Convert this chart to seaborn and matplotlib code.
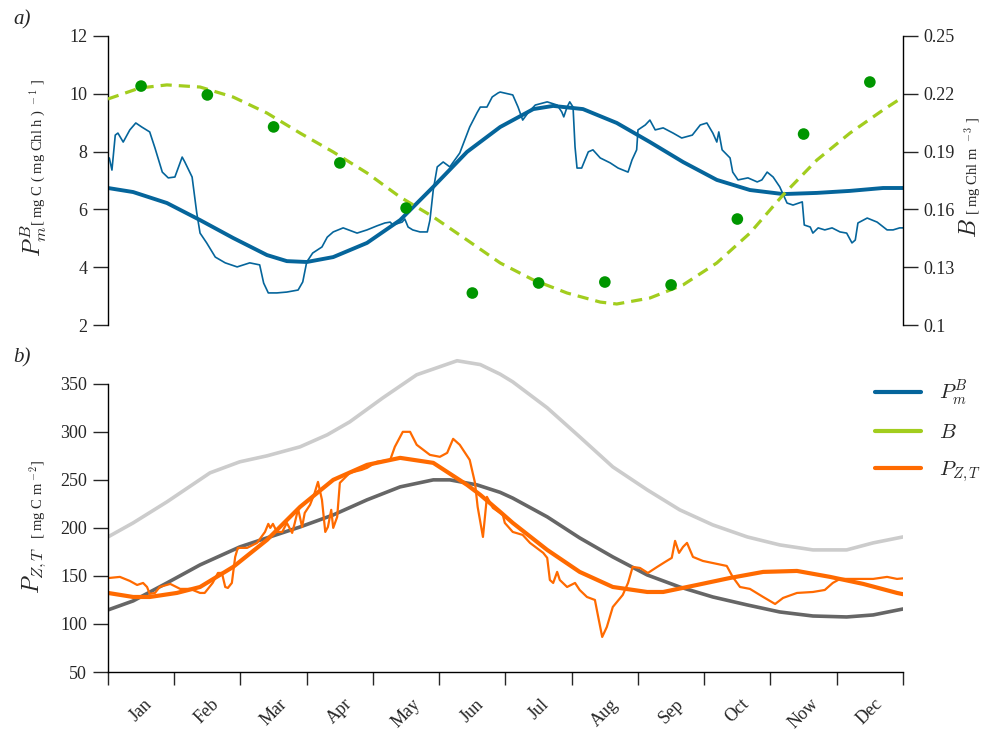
import pandas as pd
import seaborn as sns
import matplotlib.pyplot as plt
from matplotlib.lines import Line2D

# month labels (x axis in months, 0..12)
months = ['Jan', 'Feb', 'Mar', 'Apr', 'May', 'Jun', 'Jul', 'Aug', 'Sep', 'Oct', 'Now', 'Dec']

# ---- panel a ----
# smoothed P_m^B  [mg C (mg Chl h)^-1]
pmb_fit_t = [0, 0.38, 0.89, 1.39, 1.89, 2.40, 2.70, 3.00, 3.40, 3.91, 4.41, 4.91, 5.42, 5.92,
             6.42, 6.72, 7.17, 7.68, 8.18, 8.68, 9.19, 9.69, 10.19, 10.70, 11.20, 11.70, 12.0]
pmb_fit = [6.74, 6.60, 6.22, 5.63, 5.01, 4.42, 4.21, 4.18, 4.35, 4.84, 5.63, 6.78, 7.99, 8.85,
           9.47, 9.58, 9.47, 8.99, 8.33, 7.64, 7.02, 6.67, 6.53, 6.57, 6.64, 6.74, 6.74]

# daily P_m^B
pmb_t = [0.02, 0.06, 0.11, 0.15, 0.23, 0.33, 0.42, 0.51, 0.63, 0.71, 0.82, 0.91, 1.01, 1.12, 1.16,
         1.27, 1.34, 1.39, 1.49, 1.62, 1.77, 1.95, 2.14, 2.29, 2.35, 2.42, 2.55, 2.70, 2.87, 2.94,
         3.00, 3.09, 3.23, 3.31, 3.40, 3.55, 3.76, 3.91, 4.06, 4.18, 4.26, 4.30, 4.44, 4.48, 4.53,
         4.60, 4.71, 4.82, 4.86, 4.91, 4.97, 5.06, 5.16, 5.31, 5.46, 5.57, 5.62, 5.72, 5.80, 5.89,
         5.92, 6.11, 6.19, 6.26, 6.34, 6.45, 6.63, 6.78, 6.85, 6.88, 6.93, 6.97, 7.02, 7.05, 7.08,
         7.15, 7.25, 7.32, 7.43, 7.58, 7.70, 7.85, 7.91, 7.98, 8.00, 8.11, 8.18, 8.26, 8.38, 8.53,
         8.66, 8.82, 8.94, 9.04, 9.13, 9.19, 9.22, 9.27, 9.39, 9.43, 9.51, 9.66, 9.80, 9.87, 9.95,
         10.04, 10.14, 10.25, 10.34, 10.48, 10.51, 10.60, 10.64, 10.72, 10.82, 10.93, 11.05, 11.15,
         11.23, 11.28, 11.32, 11.46, 11.61, 11.76, 11.85, 11.95, 12.0]
pmb = [7.78, 7.36, 8.57, 8.64, 8.33, 8.75, 8.99, 8.85, 8.68, 8.12, 7.29, 7.09, 7.12, 7.81, 7.64,
       7.12, 5.88, 5.18, 4.84, 4.35, 4.15, 4.01, 4.15, 4.08, 3.45, 3.11, 3.11, 3.14, 3.21, 3.49,
       4.18, 4.49, 4.70, 5.04, 5.22, 5.36, 5.18, 5.29, 5.43, 5.53, 5.56, 5.46, 5.56, 5.67, 5.39,
       5.29, 5.22, 5.22, 5.63, 6.67, 7.47, 7.64, 7.47, 7.95, 8.85, 9.34, 9.54, 9.54, 9.89, 10.03,
       10.06, 9.96, 9.54, 9.09, 9.34, 9.61, 9.72, 9.61, 9.37, 9.20, 9.54, 9.72, 9.54, 8.16, 7.43,
       7.43, 7.99, 8.06, 7.78, 7.61, 7.43, 7.29, 7.71, 8.06, 8.75, 8.92, 9.09, 8.75, 8.82, 8.64,
       8.47, 8.57, 8.92, 8.99, 8.64, 8.33, 8.68, 8.06, 7.78, 7.29, 7.02, 7.09, 6.95, 7.02, 7.29,
       7.12, 6.78, 6.22, 6.15, 6.26, 5.46, 5.39, 5.18, 5.36, 5.29, 5.36, 5.22, 5.18,
       4.84, 4.94, 5.53, 5.70, 5.56, 5.29, 5.29, 5.36, 5.36]

# fitted B  [mg Chl m^-3]
b_fit_t = [0, 0.48, 0.89, 1.39, 1.89, 2.40, 2.90, 3.40, 3.91, 4.41, 4.91, 5.42, 5.92, 6.42,
           6.93, 7.43, 7.68, 8.18, 8.68, 9.19, 9.69, 10.19, 10.70, 11.20, 11.70, 12.0]
b_fit = [0.2173, 0.2230, 0.2246, 0.2235, 0.2183, 0.2100, 0.1996, 0.1898, 0.1789, 0.1664,
         0.1561, 0.1441, 0.1322, 0.1234, 0.1166, 0.1119, 0.1109, 0.1140, 0.1208, 0.1322,
         0.1477, 0.1675, 0.1856, 0.1996, 0.2116, 0.2183]

# monthly B observations
b_obs_t = [0.5, 1.5, 2.5, 3.5, 4.5, 5.5, 6.5, 7.5, 8.5, 9.5, 10.5, 11.5]
b_obs = [0.2240, 0.2194, 0.2028, 0.1841, 0.1607, 0.1166, 0.1218, 0.1223, 0.1208, 0.1550,
         0.1991, 0.2261]

# ---- panel b ----  P_ZT [mg C m^-2]
upper_t = [0, 0.38, 0.89, 1.54, 1.99, 2.40, 2.90, 3.31, 3.65, 4.15, 4.66, 5.27, 5.62, 5.92,
           6.11, 6.63, 7.12, 7.62, 8.14, 8.63, 9.13, 9.65, 10.14, 10.64, 11.15, 11.55, 12.0]
upper = [190.6, 205.2, 227.1, 257.3, 268.8, 275.0, 284.4, 296.9, 310.4, 335.4, 359.4, 374.0,
         370.0, 360.0, 352.0, 325.0, 294.8, 263.5, 239.6, 218.8, 203.1, 190.6, 182.3, 177.1,
         177.1, 184.4, 190.6]

lower_t = [0, 0.38, 0.89, 1.39, 1.99, 2.40, 2.90, 3.40, 3.91, 4.41, 4.91, 5.16, 5.57, 5.92,
           6.11, 6.63, 7.12, 7.62, 8.14, 8.63, 9.13, 9.65, 10.14, 10.64, 11.15, 11.55, 12.0]
lower = [114.6, 124.0, 142.7, 161.5, 180.2, 189.6, 201.0, 213.5, 229.2, 242.7, 250.0, 250.0,
         244.8, 237.0, 231.0, 211.5, 189.6, 169.8, 151.0, 138.5, 128.1, 119.8, 112.5, 108.3,
         107.3, 109.4, 115.6]

pzt_fit_t = [0, 0.38, 0.63, 1.04, 1.39, 1.89, 2.40, 2.90, 3.40, 3.91, 4.41, 4.91, 5.42, 5.62,
             5.92, 6.11, 6.63, 7.12, 7.62, 8.14, 8.38, 8.89, 9.39, 9.89, 10.40, 10.90, 11.40,
             11.91, 12.0]
pzt_fit = [132.3, 128.1, 128.1, 132.3, 138.5, 159.4, 187.5, 221.9, 250.0, 265.6, 272.9, 267.7,
           244.8, 234.4, 216.7, 205.2, 177.1, 154.2, 138.5, 133.3, 133.3, 140.6, 147.9, 154.2,
           155.2, 149.0, 141.7, 132.3, 131.0]

pzt_t = [0.02, 0.18, 0.33, 0.44, 0.53, 0.59, 0.63, 0.71, 0.78, 0.94, 1.09, 1.24, 1.39, 1.46,
         1.58, 1.66, 1.72, 1.77, 1.81, 1.87, 1.92, 1.96, 2.10, 2.25, 2.37, 2.42, 2.45, 2.49, 2.55,
         2.63, 2.70, 2.78, 2.82, 2.87, 2.93, 2.97, 3.05, 3.12, 3.17, 3.23, 3.28, 3.32, 3.37, 3.40,
         3.46, 3.50, 3.65, 3.83, 3.91, 4.06, 4.26, 4.33, 4.45, 4.56, 4.66, 4.86, 5.01, 5.12, 5.21,
         5.31, 5.46, 5.54, 5.58, 5.66, 5.72, 5.81, 5.96, 5.99, 6.11, 6.26, 6.37, 6.57, 6.63, 6.67,
         6.72, 6.78, 6.82, 6.93, 7.05, 7.12, 7.23, 7.35, 7.40, 7.46, 7.53, 7.62, 7.77, 7.85, 7.92,
         8.03, 8.15, 8.29, 8.41, 8.51, 8.56, 8.62, 8.68, 8.74, 8.83, 8.98, 9.34, 9.43, 9.54, 9.69,
         9.89, 10.07, 10.19, 10.40, 10.64, 10.82, 10.94, 11.05, 11.40, 11.55, 11.76, 11.91, 12.0]
pzt = [147.9, 149.0, 144.8, 140.6, 142.7, 138.5, 131.3, 132.3, 138.5, 141.7, 136.5, 136.5, 132.3,
       132.3, 142.7, 153.1, 153.1, 138.5, 137.5, 142.7, 169.8, 179.2, 179.2, 184.4, 195.8, 204.2,
       200.0, 204.2, 195.8, 195.8, 205.2, 194.8, 205.2, 219.8, 201.0, 215.6, 224.0, 236.5, 247.9,
       229.2, 195.8, 201.0, 218.8, 200.0, 211.5, 246.9, 257.3, 260.4, 262.5, 268.8, 270.8, 284.4,
       300.0, 300.0, 286.5, 276.0, 274.0, 278.1, 292.7, 286.5, 270.8, 246.9, 221.9, 190.6, 232.3,
       220.8, 213.5, 205.2, 195.8, 192.7, 184.4, 174.0, 168.8, 145.8, 142.7, 154.2, 145.8, 138.5,
       142.7, 135.4, 128.1, 125.0, 107.3, 86.5, 96.9, 117.7, 130.2, 142.7, 159.4, 158.3, 153.1,
       159.4, 164.6, 168.8, 186.5, 174.0, 180.2, 184.4, 169.8, 165.6, 160.4, 149.0, 138.5, 136.5,
       128.1, 120.8, 127.1, 132.3, 133.3, 135.4, 142.7, 146.9, 146.9, 146.9, 149.0, 146.9, 147.5]

blue = '#05659b'
lime = '#a2cd1e'
dots = '#009600'
orange = '#ff6a00'

sns.set_style('ticks')
plt.rcParams['font.family'] = ['Liberation Serif', 'DejaVu Serif']
plt.rcParams['mathtext.fontset'] = 'cm'

fig = plt.figure(figsize=(9.86, 7.31), dpi=100)
ax1 = fig.add_axes([0.1095, 0.5554, 0.8063, 0.3954])
ax2 = ax1.twinx()
ax3 = fig.add_axes([0.1095, 0.0807, 0.8063, 0.4337])

# panel a
sns.lineplot(x=pmb_t, y=pmb, ax=ax1, color=blue, lw=1.2, estimator=None, sort=False)
sns.lineplot(x=pmb_fit_t, y=pmb_fit, ax=ax1, color=blue, lw=2.8, estimator=None, sort=False)
sns.lineplot(x=b_fit_t, y=b_fit, ax=ax2, color=lime, lw=2.3, estimator=None, sort=False)
ax2.lines[0].set_dashes((3.5, 2.2))
sns.scatterplot(x=b_obs_t, y=b_obs, ax=ax2, color=dots, s=70, edgecolor='none', zorder=5)

ax1.set_xlim(0, 12)
ax1.set_ylim(2, 12)
ax1.set_yticks([2, 4, 6, 8, 10, 12])
ax2.set_ylim(0.1, 0.25)
ax2.set_yticks([0.1, 0.13, 0.16, 0.19, 0.22, 0.25])
ax2.set_yticklabels(['0.1', '0.13', '0.16', '0.19', '0.22', '0.25'])
for a in (ax1, ax2):
    a.spines['top'].set_visible(False)
    a.spines['bottom'].set_visible(False)
    a.set_xticks([])
    a.set_xlabel('')
    a.set_ylabel('')
ax1.spines['right'].set_visible(False)
ax2.spines['left'].set_visible(False)
ax2.spines['right'].set_visible(True)
ax1.tick_params(axis='y', direction='out', length=11, width=1, labelsize=13, pad=4)
ax2.tick_params(axis='y', direction='out', length=11, width=1, labelsize=13, pad=4)

# panel b
sns.lineplot(x=upper_t, y=upper, ax=ax3, color='#cccccc', lw=2.6, estimator=None, sort=False)
sns.lineplot(x=lower_t, y=lower, ax=ax3, color='#666666', lw=2.6, estimator=None, sort=False)
sns.lineplot(x=pzt_t, y=pzt, ax=ax3, color=orange, lw=1.6, estimator=None, sort=False)
sns.lineplot(x=pzt_fit_t, y=pzt_fit, ax=ax3, color=orange, lw=3.0, estimator=None, sort=False)

ax3.set_xlim(0, 12)
ax3.set_ylim(50, 380)
ax3.set_yticks([50, 100, 150, 200, 250, 300, 350])
ax3.spines['left'].set_bounds(50, 350)
ax3.spines['top'].set_visible(False)
ax3.spines['right'].set_visible(False)
ax3.set_xticks(range(13))
ax3.set_xticklabels([])
ax3.set_xticks([m + 0.5 for m in range(12)], minor=True)
ax3.set_xticklabels(months, minor=True, rotation=45, ha='center', va='top')
ax3.tick_params(axis='x', which='major', direction='out', length=9, width=1)
ax3.tick_params(axis='x', which='minor', length=0, labelsize=13, pad=17)
ax3.tick_params(axis='y', direction='out', length=11, width=1, labelsize=13, pad=4)
ax3.set_xlabel('')
ax3.set_ylabel('')

for a in (ax1, ax2, ax3):
    for s in a.spines.values():
        s.set_linewidth(1.0)
        s.set_color('black')

# axis labels
W, H = 986, 731
def ftxt(x, y, s, **kw):
    fig.text(x / W, 1 - y / H, s, ha='center', va='center', **kw)

ftxt(22, 20, 'a)', fontsize=15, style='italic')
ftxt(22, 358, 'b)', fontsize=15, style='italic')
ftxt(34, 241, r'$P_m^B$', fontsize=17, rotation=90)
ftxt(38, 152, r'[ mg C ( mg Chl h ) $^{\rm -1}$ ]', fontsize=10.5, rotation=90)
ftxt(971, 228, r'$B$', fontsize=17, rotation=90)
ftxt(973, 166, r'[ mg Chl m $^{\rm -3}$ ]', fontsize=10.5, rotation=90)
ftxt(34, 570, r'$P_{Z,T}$', fontsize=17, rotation=90)
ftxt(38, 499, r'[ mg C m$^{\rm -2}$]', fontsize=10.5, rotation=90)

handles = [Line2D([], [], color=blue, lw=3),
           Line2D([], [], color=lime, lw=3),
           Line2D([], [], color=orange, lw=3)]
fig.legend(handles, [r'$P_m^B$', r'$B$', r'$P_{Z,T}$'], loc='upper left',
           bbox_to_anchor=(856 / W, 1 - 360 / H), frameon=False, fontsize=15,
           handlelength=2.2, handletextpad=0.9, labelspacing=0.75)

plt.savefig('out.png', dpi=100)
